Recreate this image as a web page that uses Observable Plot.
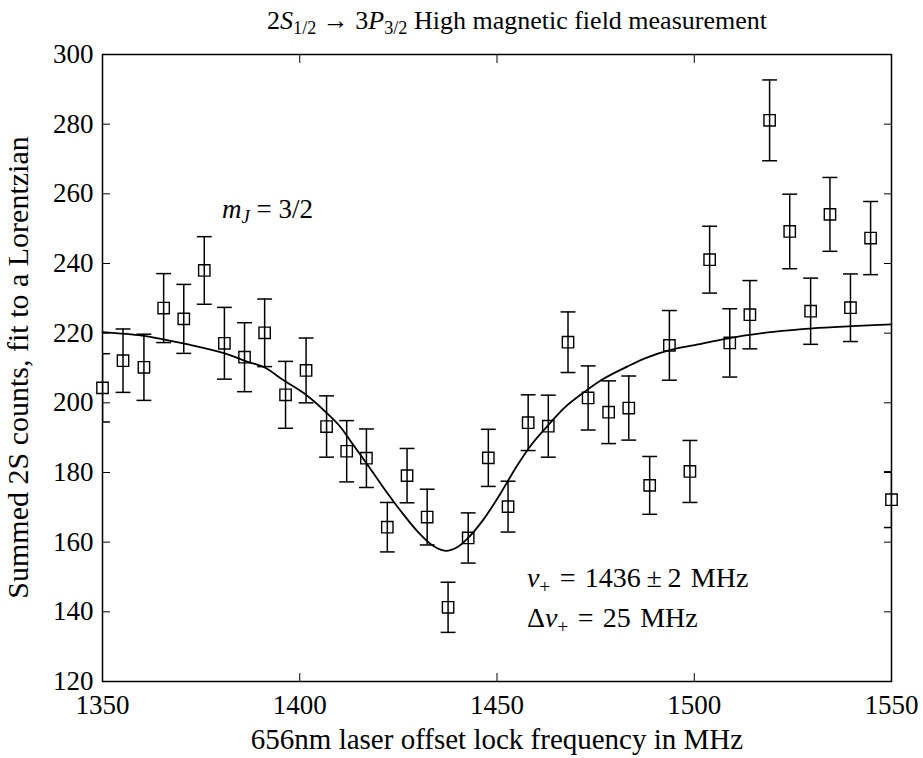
<!DOCTYPE html>
<html><head><meta charset="utf-8">
<script src="https://cdn.jsdelivr.net/npm/d3@7"></script>
<script src="https://cdn.jsdelivr.net/npm/@observablehq/plot@0.6"></script>
<style>
body{margin:0;background:#fff;}
svg, svg text { font-family: "Liberation Serif", "DejaVu Serif", serif !important; }
</style>
</head><body><div id="chart"></div>
<script>
// measured data (MHz, summed counts, error)
const freq = [1350.0,1355.2,1360.5,1365.5,1370.6,1375.8,1380.9,1386.0,1391.1,1396.4,
  1401.6,1406.8,1411.9,1416.9,1422.2,1427.2,1432.3,1437.6,1442.7,1447.8,
  1452.8,1457.9,1463.0,1468.0,1473.1,1478.3,1483.4,1488.7,1493.7,1498.9,
  1503.9,1509.0,1514.1,1519.1,1524.2,1529.5,1534.4,1539.6,1544.7,1550.0];
const counts = [204.3,212.1,210.2,227.2,224.1,238.0,217.1,213.1,220.1,202.3,
  209.3,193.2,186.1,184.1,164.3,179.1,167.2,141.3,161.2,184.2,
  170.2,194.3,193.3,217.4,201.4,197.3,198.5,176.3,216.5,180.3,
  241.1,217.2,225.3,281.1,249.2,226.3,254.1,227.3,247.3,172.2];
const errors = [9.8,9.1,9.5,9.9,9.9,9.7,10.3,9.9,9.7,9.6,
  9.3,8.8,8.8,8.4,7.1,7.8,8.0,7.2,7.2,8.2,
  7.3,8.0,8.9,8.7,9.2,9.0,9.2,8.3,10.0,8.9,
  9.6,9.8,9.8,11.6,10.7,9.5,10.6,9.7,10.5,8.0];
// Lorentzian fit curve
const fitFreq = [1350,1360,1366,1372,1381,1387,1391,1396,1401,1406,1410,1413,1417,1421,1425.5,1430,1434,1437,1440,1442.5,1446.5,1451,1455,1459,1463,1467,1472,1477,1483,1488,1494,1502,1509,1514,1520,1530,1540,1550];
const fitCounts = [220.3,219.3,218.1,216.7,214.2,211.7,210.2,206.4,202.8,198.0,193.5,188.8,182.5,176.0,169.1,162.9,158.8,157.5,158.6,161.0,166.4,174.2,181.8,188.4,193.6,198.5,203.0,206.9,210.4,213.0,215.2,217.0,218.6,219.5,220.4,221.4,222.0,222.5];
const xTicks = [1350,1400,1450,1500,1550];
const yTicks = [120,140,160,180,200,220,240,260,280,300];
// annotation anchors (data units)
const noteFreq = [1380.4, 1457.7, 1457.7];
const noteCounts = [252.9, 147.0, 135.5];

const points = freq.map((f,i)=>({f, c: counts[i], e: errors[i]}));
const fit = fitFreq.map((f,i)=>({f, c: fitCounts[i]}));
const capSymbol = {draw(ctx, size){ const w = Math.sqrt(size); ctx.moveTo(-w/2,0); ctx.lineTo(w/2,0); }};
const FONT = "'Liberation Serif', 'DejaVu Serif', serif";

const plot = Plot.plot({
  width: 923, height: 758,
  marginTop: 54, marginBottom: 77, marginLeft: 102, marginRight: 32,
  style: {fontFamily: FONT, fontSize: "27px", color: "black", background: "white", overflow: "visible"},
  x: {domain: [1350,1550]},
  y: {domain: [120,300]},
  marks: [
    Plot.ruleX(points, {x: "f", y1: d => d.c - d.e, y2: d => d.c + d.e, stroke: "black", strokeWidth: 1.5, clip: true}),
    Plot.dot(points, {x: "f", y: d => d.c + d.e, symbol: capSymbol, r: 8.4, stroke: "black", strokeWidth: 1.5, clip: true}),
    Plot.dot(points, {x: "f", y: d => d.c - d.e, symbol: capSymbol, r: 8.4, stroke: "black", strokeWidth: 1.5, clip: true}),
    Plot.line(fit, {x: "f", y: "c", curve: "catmull-rom", stroke: "black", strokeWidth: 1.8}),
    Plot.dot(points, {x: "f", y: "c", symbol: "square", r: 6.4, stroke: "black", strokeWidth: 1.4, fill: "none"}),
    Plot.frame({stroke: "black", strokeWidth: 1.5}),
    Plot.axisX({anchor: "bottom", ticks: xTicks, tickSize: -8, tickPadding: 21, label: null, fontSize: 27, tickFormat: d => String(d)}),
    Plot.axisX({anchor: "top", ticks: xTicks, tickSize: -8, label: null, tickFormat: () => ""}),
    Plot.axisY({anchor: "left", ticks: yTicks, tickSize: -8, tickPadding: 17, label: null, fontSize: 27, tickFormat: d => String(d)}),
    Plot.axisY({anchor: "right", ticks: yTicks, tickSize: -8, label: null, tickFormat: () => ""})
  ]
});
document.getElementById("chart").appendChild(plot);

const sx = plot.scale("x"), sy = plot.scale("y");
const svg = d3.select(plot);
function addText(x, y, parts, opts = {}) {
  const size = opts.size || 27;
  const t = svg.append("text").attr("x", x).attr("y", y)
    .attr("font-size", size)
    .attr("text-anchor", opts.anchor || "start").attr("fill", "black");
  if (opts.rotate) t.attr("transform", `rotate(${opts.rotate},${x},${y})`);
  for (const p of parts) {
    const s = t.append("tspan").text(p.t);
    if (p.i) s.attr("font-style", "italic");
    if (p.sub) s.attr("baseline-shift", "-28%").attr("font-size", size * 0.7);
  }
  return t;
}
// title
addText(517, 29, [
  {t: "2"}, {t: "S", i: true}, {t: "1/2", sub: true}, {t: " → 3"}, {t: "P", i: true}, {t: "3/2", sub: true},
  {t: " High magnetic field measurement"}
], {anchor: "middle", size: 26});
// axis labels
addText(497, 749, [{t: "656nm laser offset lock frequency in MHz"}], {anchor: "middle", size: 29});
addText(28, 367.5, [{t: "Summed 2S counts, fit to a Lorentzian"}], {anchor: "middle", size: 30, rotate: -90});
// annotations
addText(sx.apply(noteFreq[0]), sy.apply(noteCounts[0]), [{t: "m", i: true}, {t: "J", i: true, sub: true}, {t: " = 3/2"}], {size: 27});
addText(sx.apply(noteFreq[1]), sy.apply(noteCounts[1]), [{t: "ν", i: true}, {t: "+", sub: true}, {t: "\u2004=\u20041436\u2009±\u20092\u2004MHz"}], {size: 28});
addText(sx.apply(noteFreq[2]), sy.apply(noteCounts[2]), [{t: "Δ"}, {t: "ν", i: true}, {t: "+", sub: true}, {t: "\u2004=\u200425\u2004MHz"}], {size: 28});
</script></body></html>
